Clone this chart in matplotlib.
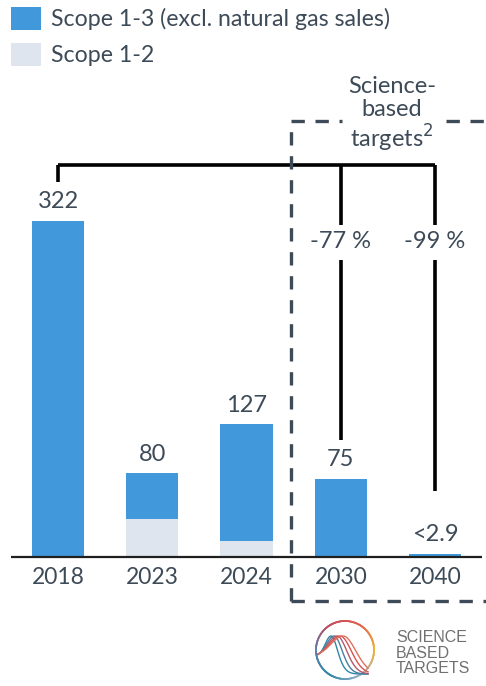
import matplotlib
matplotlib.use("Agg")
import matplotlib.pyplot as plt
from matplotlib.patches import Rectangle
from matplotlib.colors import LinearSegmentedColormap
import numpy as np

# ---- data ----
years = ["2018", "2023", "2024", "2030", "2040"]
scope13 = [322, 80, 127, 75, 2.9]          # total height (Scope 1-3)
scope12 = [0, 36, 15, 0, 0]                 # Scope 1-2 portion
value_labels = ["322", "80", "127", "75", "<2.9"]
reductions = {3: "-77 %", 4: "-99 %"}
legend_labels = ["Scope 1-3 (excl. natural gas sales)", "Scope 1-2"]

BLUE = "#4199db"
LIGHT = "#dfe5ee"
TXT = "#3d4a57"

plt.rcParams['font.family'] = ['Lato', 'DejaVu Sans']

W, H = 486, 686
fig = plt.figure(figsize=(W / 100, H / 100), dpi=100)

# geometry in pixels
x0px, dxpx = 58.0, 94.25
left_px, right_px = 11, 482
base_px = 557
scale = 336.3 / 322  # px per unit

ax = fig.add_axes([left_px / W, 0, (right_px - left_px) / W, 1])
ax.set_xlim((left_px - x0px) / dxpx, (right_px - x0px) / dxpx)
ax.set_ylim(-(H - base_px) / scale, base_px / scale)
ax.axis("off")

x = np.arange(len(years))
bw = 0.555
tot = np.array(scope13, dtype=float)
s12 = np.array(scope12, dtype=float)
ax.bar(x, s12, width=bw, color=LIGHT, linewidth=0)
ax.bar(x, tot - s12, bottom=s12, width=bw, color=BLUE, linewidth=0)

# baseline
ax.axhline(0, color="#1f1f1f", lw=1.6, xmin=0, xmax=1)

u = 1 / scale  # one pixel in data units
for i, (t, lab) in enumerate(zip(tot, value_labels)):
    ax.text(x[i], t + 19 * u, lab, ha="center", va="center", fontsize=17, color=TXT)
    ax.text(x[i], -21 * u, years[i], ha="center", va="center", fontsize=16.5, color=TXT)

# bracket
yb = (base_px - 165.5) * u
lk = dict(color="black", lw=2.6, solid_capstyle="butt", clip_on=False)
ax.plot([x[0], x[4]], [yb, yb], **lk)
ax.plot([x[0], x[0]], [yb, (base_px - 182) * u], **lk)
for i, lab in reductions.items():
    ax.plot([x[i], x[i]], [yb, (base_px - 225) * u], **lk)
    ax.text(x[i], (base_px - 242) * u, lab, ha="center", va="center", fontsize=17, color=TXT)
ax.plot([x[3], x[3]], [(base_px - 260) * u, (base_px - 440) * u], **lk)
ax.plot([x[4], x[4]], [(base_px - 260) * u, (base_px - 491) * u], **lk)

# dashed box
bx = (291 - x0px) / dxpx
bx_r = (490 - x0px) / dxpx
ytop = (base_px - 121) * u
ybot = (base_px - 601) * u
dk = dict(color=TXT, lw=2.4, linestyle=(0, (4, 3.2)), clip_on=False)
ax.plot([bx, bx], [ybot, ytop], **dk)
ax.plot([bx, (342 - x0px) / dxpx], [ytop, ytop], **dk)
ax.plot([(446 - x0px) / dxpx, bx_r], [ytop, ytop], **dk)
ax.plot([bx, bx_r], [ybot, ybot], **dk)
ax.text((392 - x0px) / dxpx, (base_px - 115) * u, "Science-\nbased\ntargets$^{2}$",
        ha="center", va="center", fontsize=17, color=TXT, linespacing=1.12)

# legend
for k, (lab, col) in enumerate(zip(legend_labels, [BLUE, LIGHT])):
    ytop_px = 7 + 36 * k
    fig.patches.append(Rectangle((11 / W, 1 - (ytop_px + 23) / H), 30 / W, 23 / H,
                                 transform=fig.transFigure, color=col, lw=0))
    fig.text(51 / W, 1 - (ytop_px + 12) / H, lab, ha="left", va="center",
             fontsize=16.7, color=TXT)

# SBTi logo
lax = fig.add_axes([311 / W, 1 - 684 / H, 68 / W, 68 / H])
lax.set_xlim(-34, 34)
lax.set_ylim(-34, 34)
lax.set_aspect("equal")
lax.axis("off")
th = np.linspace(0, 2 * np.pi, 200)
cm = LinearSegmentedColormap.from_list("c", ["#f2b134", "#e0604c", "#c9485b", "#5a7fa8", "#2f86a8", "#9fb3c8", "#f2b134"])
R = 29
for j in range(len(th) - 1):
    lax.plot(R * np.cos(th[j:j + 2]), R * np.sin(th[j:j + 2]), color=cm(j / (len(th) - 1)), lw=1.2)
tt = np.linspace(-1, 1, 100)
for k, c in enumerate(["#2f86a8", "#4a7ea0", "#b35a6a", "#d9534f", "#e07060"]):
    xs = -27 + 50 * (tt + 1) / 2
    peak = -14 + 3 * k
    ys = -6 + 20 * np.exp(-((xs - peak) / (8 + 2.2 * k)) ** 2) - 18 * (xs > peak) * (1 - np.exp(-((xs - peak) / (12 + 2 * k)) ** 2))
    lax.plot(xs, ys, color=c, lw=1.0)

fig.text(396 / W, 1 - 653 / H, "SCIENCE\nBASED\nTARGETS", ha="left", va="center",
         fontsize=11.5, color="#707070", family=["Liberation Sans", "DejaVu Sans"], linespacing=1.08)

fig.savefig("out.png", dpi=100)
